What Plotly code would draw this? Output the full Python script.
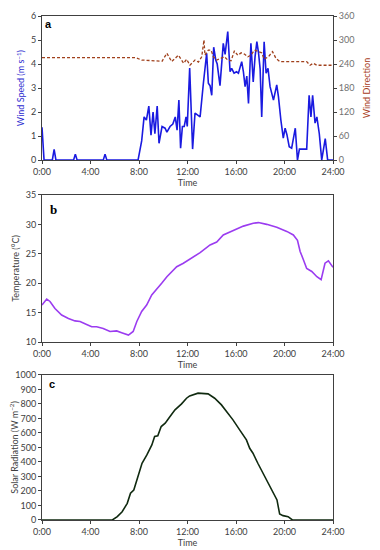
import plotly.graph_objects as go

# ---------------- data ----------------
tick_hours = [0, 4, 8, 12, 16, 20, 24]
tick_labels = ["0:00", "4:00", "8:00", "12:00", "16:00", "20:00", "24:00"]

ws_hour = [0, 0.17, 0.85, 1.0, 1.15, 2.6, 2.75, 2.9, 5.05, 5.2, 5.35, 7.92, 8.22, 8.42,
           8.61, 8.81, 8.99, 9.16, 9.31, 9.5, 9.65, 9.9, 10.15, 10.3, 10.56, 10.79, 10.99,
           11.14, 11.29, 11.43, 11.58, 11.73, 11.88, 11.98, 12.18, 12.33, 12.42, 12.62,
           12.84, 13.04, 13.31, 13.58, 13.72, 13.86, 14.0, 14.16, 14.33, 14.45, 14.68,
           14.95, 15.1, 15.32, 15.51, 15.64, 15.84, 16.04, 16.2, 16.47, 16.61, 16.75,
           16.89, 17.03, 17.23, 17.42, 17.57, 17.72, 17.85, 17.99, 18.12, 18.32, 18.48,
           18.64, 18.81, 19.09, 19.36, 19.5, 19.7, 19.9, 20.05, 20.2, 20.39, 20.59, 20.89,
           21.07, 21.23, 21.83, 22.03, 22.18, 22.32, 22.52, 22.67, 22.87, 23.07, 23.36,
           23.56, 24.0]
ws_val = [1.37, 0, 0, 0.45, 0, 0, 0.25, 0, 0, 0.25, 0, 0, 0.8, 1.8,
          1.67, 2.25, 1.04, 2.0, 1.1, 2.25, 0.7, 1.4, 1.33, 1.17, 1.4, 1.5, 1.8,
          1.25, 2.5, 0.5, 1.4, 1.4, 1.8, 1.4, 3.83, 1.54, 0.46, 1.96,
          1.88, 1.8, 3.2, 4.45, 3.2, 3.1, 2.7, 4.7, 4.17, 4.0, 3.1,
          4.86, 4.4, 5.35, 3.68, 3.82, 3.62, 3.68, 3.62, 4.1, 3.68, 3.06,
          3.5, 2.36, 4.86, 3.26, 4.3, 4.93, 4.5, 3.8, 1.8, 4.93, 3.62,
          3.82, 3.06, 2.5, 3.13, 2.64, 1.67, 0.92, 1.33, 1.06, 0.56, 0.5, 1.33,
          0.0, 0.46, 0.46, 2.7, 1.8, 2.7, 1.54, 1.8, 1.1, 0, 0.9,
          0, 0]

wd_hour = [0, 7.72, 8.22, 8.91, 9.9, 10.3, 10.69, 11.25, 11.68, 11.93, 12.2, 12.62,
           12.9, 13.17, 13.36, 13.44, 13.72, 13.94, 14.14, 14.41, 14.68, 15.05, 15.32,
           15.59, 15.87, 16.14, 16.43, 16.69, 16.97, 17.23, 17.52, 17.85, 18.12, 18.32,
           18.67, 19.01, 19.3, 19.63, 21.83, 22.11, 22.37, 22.67, 24.0]
wd_val = [256, 256, 250, 248, 247, 267, 246, 262, 242, 252, 237, 250,
          245, 258, 300, 262, 275, 275, 258, 250, 254, 258, 250,
          248, 273, 262, 268, 265, 258, 262, 275, 271, 268, 252,
          258, 271, 254, 246, 246, 237, 242, 237, 237]

temp_hour = [0, 0.39, 0.66, 1.07, 1.62, 2.18, 2.72, 3.14, 3.68, 4.1, 4.51, 5.05, 5.61,
             6.16, 6.57, 7.13, 7.52, 7.82, 8.22, 8.63, 9.05, 9.46, 9.87, 10.3, 10.69,
             11.11, 11.66, 12.2, 13.04, 13.86, 14.41, 14.95, 15.78, 16.61, 17.42, 17.85,
             18.53, 19.36, 20.19, 20.73, 21.07, 21.29, 21.56, 21.83, 22.25, 22.67, 23.02,
             23.34, 23.62, 24.0]
temp_val = [16.3, 17.3, 16.9, 15.7, 14.6, 14.0, 13.6, 13.5, 13.0, 12.6, 12.6, 12.3, 11.8,
            11.9, 11.6, 11.2, 11.8, 13.5, 15.2, 16.3, 18.0, 19.1, 20.0, 21.1, 22.0,
            22.8, 23.4, 24.1, 25.2, 26.5, 27.0, 28.2, 29.0, 29.7, 30.2, 30.3,
            30.0, 29.5, 28.8, 28.2, 27.3, 25.4, 24.0, 22.5, 22.0, 21.1, 20.6,
            23.4, 23.8, 22.7]

sol_hour = [0, 5.8, 6.21, 6.61, 7.03, 7.3, 7.57, 7.98, 8.25, 8.65, 9.06, 9.29, 9.55,
            9.83, 10.16, 10.56, 10.97, 11.51, 11.92, 12.18, 12.87, 13.7, 14.24, 14.8,
            15.34, 15.75, 16.3, 16.86, 17.13, 17.4, 17.8, 18.23, 18.64, 19.05, 19.38,
            19.6, 19.88, 20.3, 20.65, 24.0]
sol_val = [0, 0, 23, 57, 115, 184, 207, 322, 391, 448, 517, 575, 580,
           644, 667, 713, 759, 800, 839, 855, 874, 869, 839, 793,
           736, 690, 621, 552, 494, 460, 391, 322, 253, 195, 138,
           41, 30, 23, 0, 0]

# ---------------- styles ----------------
FONT = "Lato"
AXC = "#404040"
TICKF = dict(family=FONT, size=9, color="#404040")

fig = go.Figure()
fig.add_trace(go.Scatter(x=ws_hour, y=ws_val, mode="lines", xaxis="x", yaxis="y",
                         line=dict(color="#1a1ae0", width=1.6), showlegend=False))
fig.add_trace(go.Scatter(x=wd_hour, y=wd_val, mode="lines", xaxis="x", yaxis="y2",
                         line=dict(color="#a0401c", width=1.3, dash="3px,2px"),
                         showlegend=False))
fig.add_trace(go.Scatter(x=temp_hour, y=temp_val, mode="lines", xaxis="x2", yaxis="y3",
                         line=dict(color="#9b3cf0", width=1.6), showlegend=False))
fig.add_trace(go.Scatter(x=sol_hour, y=sol_val, mode="lines", xaxis="x3", yaxis="y4",
                         line=dict(color="#102a10", width=1.6), showlegend=False))

def xax(anchor):
    return dict(anchor=anchor, domain=[0, 1], range=[0, 24], tickmode="array",
                tickvals=tick_hours, ticktext=tick_labels, ticks="outside", ticklen=3,
                tickcolor=AXC, showline=True, linecolor=AXC, linewidth=1, mirror=True,
                showgrid=False, zeroline=False, tickfont=TICKF, automargin=False,
                title=dict(text="Time", font=dict(family=FONT, size=9, color="#404040"),
                           standoff=2))

def yax(anchor, dom, rng, dt, title, tcol="#404040"):
    return dict(anchor=anchor, domain=dom, range=rng, dtick=dt, ticks="outside",
                ticklen=3, tickcolor=AXC, showline=True, linecolor=AXC, linewidth=1,
                mirror=True, showgrid=False, zeroline=False, tickfont=TICKF,
                automargin=False,
                title=dict(text=title, font=dict(family=FONT, size=9, color=tcol), standoff=4))

# page body adds an 8px offset; figure size and margins compensate for it
fig.update_layout(
    width=372, height=542,
    margin=dict(l=34, r=47, t=8, b=30, autoexpand=False),
    paper_bgcolor="white", plot_bgcolor="white",
    xaxis=xax("y"),
    yaxis=yax("x", [0.714, 1.0], [0, 6], 1, "Wind Speed (m s<sup>−1</sup>)", "#2b2bd0"),
    yaxis2=dict(overlaying="y", side="right", anchor="x", range=[0, 360], dtick=60,
                ticks="outside", ticklen=3, tickcolor=AXC, showline=True, linecolor=AXC,
                showgrid=False, zeroline=False, automargin=False,
                tickfont=dict(family=FONT, size=9, color="#707070"),
                title=dict(text="Wind Direction",
                           font=dict(family=FONT, size=9, color="#a83c22"), standoff=10)),
    xaxis2=xax("y3"),
    yaxis3=yax("x2", [0.353, 0.645], [10, 35], 5, "Temperature (°C)"),
    xaxis3=xax("y4"),
    yaxis4=yax("x3", [0, 0.288], [0, 1000], 100, "Solar Radiation (W m<sup>−2</sup>)"),
    annotations=[
        dict(text="<b>a</b>", xref="x domain", yref="y domain", x=0.024, y=0.944,
             xanchor="center", yanchor="middle", showarrow=False,
             font=dict(family="Liberation Sans", size=11, color="black")),
        dict(text="<b>b</b>", xref="x2 domain", yref="y3 domain", x=0.041, y=0.898,
             xanchor="center", yanchor="middle", showarrow=False,
             font=dict(family="Liberation Serif", size=13, color="black")),
        dict(text="<b>c</b>", xref="x3 domain", yref="y4 domain", x=0.034, y=0.938,
             xanchor="center", yanchor="middle", showarrow=False,
             font=dict(family="Liberation Sans", size=11, color="black")),
    ],
)

fig.write_html("out.html")
